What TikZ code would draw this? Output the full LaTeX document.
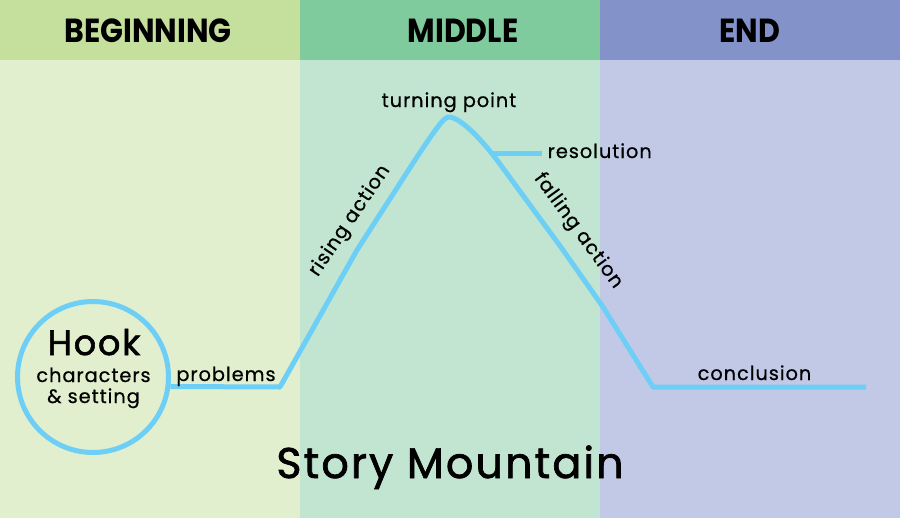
\documentclass[tikz,border=0pt]{standalone}
\usepackage{fontspec}
\setmainfont{Poppins}[LetterSpace=5, FakeBold=0.6]
\newfontfamily\headfont{Poppins}[FakeStretch=0.9]
\newfontfamily\titlefont{Poppins}[LetterSpace=5, FakeBold=1.6]
\usetikzlibrary{positioning}

\definecolor{begHead}{HTML}{C5E09C}
\definecolor{begBody}{HTML}{E1EFCF}
\definecolor{midHead}{HTML}{80CB9D}
\definecolor{midBody}{HTML}{C1E5D0}
\definecolor{endHead}{HTML}{8393C9}
\definecolor{endBody}{HTML}{C2C9E6}
\definecolor{plotline}{HTML}{6DCFF6}

\tikzset{
  head/.style={font=\headfont\bfseries\fontsize{19}{21}\selectfont, anchor=base},
  lbl/.style={font=\fontsize{11}{13}\selectfont, anchor=base},
  mountain/.style={draw=plotline, line width=0.1cm, line join=round}
}

\begin{document}
\begin{tikzpicture}[x=0.02cm, y=-0.02cm]
  \useasboundingbox (0,0) rectangle (900,518);

  % columns
  \fill[begBody] (0,60) rectangle (300,518);
  \fill[midBody] (300,60) rectangle (600,518);
  \fill[endBody] (600,60) rectangle (900,518);
  \fill[begHead] (0,0) rectangle (300,60);
  \fill[midHead] (300,0) rectangle (600,60);
  \fill[endHead] (600,0) rectangle (900,60);

  \node[head] (beginning) at (148,42) {BEGINNING};
  \node[head] (middle) at (463,42) {MIDDLE};
  \node[head] (end) at (750,42) {END};

  % hook
  \node[circle, draw=plotline, line width=0.1cm, minimum size=3.02cm, inner sep=0pt] (hook) at (93,377) {};
  \node[font=\titlefont\fontsize{20}{22}\selectfont, anchor=base] (hooktitle) at (94,355) {Hook};
  \node[lbl] (characters) at (93.5,382) {characters};
  \node[lbl] (setting) at (93.5,403) {\& setting};

  % plot line
  \coordinate (foot) at (280,387);
  \coordinate (valley) at (653,387);
  \coordinate (tail) at (866,387);
  \draw[mountain] (hook.-7.5) -- (foot) -- (357,250) -- (415,160)
    .. controls (440,122) and (445,117) .. (449,117)
    .. controls (455,117) and (470,125) .. (497,160)
    -- (563,250) -- (603,307) -- (valley) -- (tail);

  % labels
  \node[lbl] (problems) at (226,381) {problems};
  \node[lbl] (conclusion) at (754.5,380) {conclusion};
  \node[lbl] (turning) at (449,107) {turning point};
  \node[lbl, anchor=base west] (resolution) at (541.5,158) {resolution};
  \coordinate (branch) at (490,153);
  \draw[mountain] (branch) -- (branch -| resolution.west);
  \node[lbl, anchor=center, rotate=56] (rising) at (350,221) {rising action};
  \node[lbl, anchor=center, rotate=-54] (falling) at (578,231) {falling action};

  \node[font=\titlefont\fontsize{24.4}{28}\selectfont, anchor=base] (title) at (450,478) {Story Mountain};
\end{tikzpicture}
\end{document}
